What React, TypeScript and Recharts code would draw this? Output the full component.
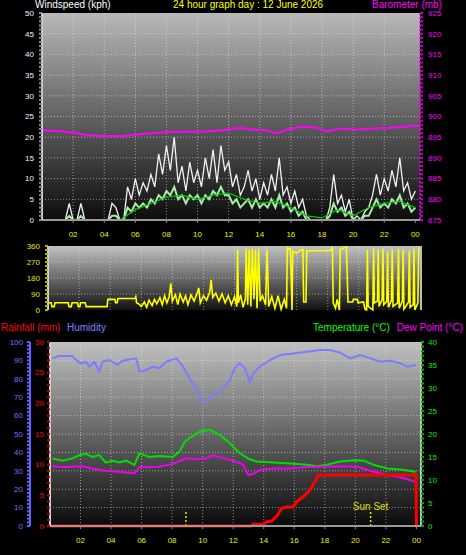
import { LineChart, Line, XAxis, YAxis, CartesianGrid, ReferenceLine } from "recharts";

const FONT = '"Liberation Sans", Arial, sans-serif';

// hours of the day (x axis)
const HOUR_TICKS = [2, 4, 6, 8, 10, 12, 14, 16, 18, 20, 22, 24];
const GRID_HOURS = [2, 4, 6, 8, 10, 12, 14, 16, 18, 20, 22];

// wind, kph, one reading every 15 minutes from 00:00
const GUST = [
  0, 0, 0, 0, 0, 0, 0, 4, 0, 0,
  4, 0, 0, 0, 0, 0, 0, 0, 4, 3,
  0, 0, 8, 5, 10, 6, 9, 7, 11, 8,
  16, 11, 18, 12, 20, 9, 13, 7, 14, 9,
  12, 8, 15, 10, 17, 9, 18, 12, 14, 8,
  11, 6, 8, 12, 7, 10, 5, 9, 6, 11,
  7, 15, 6, 8, 4, 7, 3, 5, 1, 0,
  0, 0, 0, 0, 3, 11, 4, 6, 2, 5,
  0, 1, 0, 2, 3, 6, 11, 6, 10, 7,
  12, 8, 15, 7, 9, 5, 7,
];
const WIND_AVG = [
  0, 0, 0, 0, 0, 0, 0, 1, 0, 0,
  1, 0, 0, 0, 0, 0, 0, 0, 1, 1,
  0, 0, 3, 2, 4, 3, 4, 3, 5, 4,
  6, 5, 7, 6, 8, 5, 6, 4, 6, 5,
  6, 4, 6, 5, 7, 6, 8, 6, 6, 4,
  5, 3, 4, 5, 3, 5, 3, 4, 3, 5,
  3, 6, 3, 4, 2, 3, 1, 2, 0, 0,
  0, 0, 0, 0, 1, 4, 2, 3, 1, 2,
  0, 0, 0, 1, 1, 3, 5, 3, 4, 3,
  5, 4, 6, 3, 4, 2, 3,
];
// hourly mean windspeed, 00:00 .. 24:00
const WIND_HOURLY = [0, 0, 0, 0, 0, 0, 2.5, 4, 5.5, 6, 5, 6, 6.5, 5, 4, 4.5, 3, 1, 0.5, 2.5, 1, 3, 4, 4.5, 3];

// barometer, mb  [hour, value]
const BARO: [number, number][] = [
  [0, 896.7], [1, 896.5], [2, 896.1], [3, 895.5], [4, 895.3], [5.2, 895.3], [6.3, 895.7],
  [7.3, 896.0], [8.4, 896.3], [9.5, 896.3], [10.6, 896.4], [11.6, 896.7], [12.7, 897.3],
  [13.2, 897.0], [13.8, 896.8], [14.5, 896.6], [15.1, 895.9], [15.7, 896.8], [16.8, 897.6],
  [17.65, 897.3], [18.3, 896.4], [19.15, 897.1], [20.2, 896.8], [21.3, 897.1], [22.4, 897.3],
  [23.4, 897.5], [23.9, 897.8], [24.3, 897.6],
];

// wind direction, degrees  [hour, value]
const DIRECTION: [number, number][] = [
  [0, 41], [0.2, 41], [0.25, 19], [0.4, 19], [0.45, 41], [1.3, 41], [1.35, 19], [1.5, 19],
  [1.55, 41], [1.9, 41], [1.95, 19], [2.05, 19], [2.1, 41], [2.4, 41], [2.45, 19], [3.8, 19],
  [3.85, 60], [4.3, 60], [4.35, 41], [4.45, 41], [4.5, 65], [5.6, 65], [5.65, 75], [5.7, 41],
  [5.9, 30], [6.0, 20], [6.2, 45], [6.35, 15], [6.5, 55], [6.7, 25], [6.85, 60], [7.0, 35],
  [7.2, 70], [7.35, 30], [7.5, 80], [7.65, 40], [7.8, 75], [7.9, 150], [8.0, 50], [8.2, 85],
  [8.35, 30], [8.5, 90], [8.7, 45], [8.85, 80], [9.0, 30], [9.2, 85], [9.4, 50], [9.6, 95],
  [9.7, 124], [9.8, 40], [10.0, 80], [10.2, 55], [10.4, 100], [10.5, 169], [10.6, 70],
  [10.8, 95], [11.0, 50], [11.2, 90], [11.4, 40], [11.6, 80], [11.8, 30], [12.0, 75],
  [12.15, 20], [12.2, 340], [12.25, 40], [12.4, 85], [12.55, 15], [12.7, 60], [12.75, 345],
  [12.85, 30], [12.95, 340], [13.05, 20], [13.15, 345], [13.25, 60], [13.35, 340], [13.45, 10],
  [13.55, 345], [13.65, 50], [13.8, 80], [14.0, 30], [14.1, 340], [14.2, 20], [14.4, 75],
  [14.6, 10], [14.8, 80], [15.0, 5], [15.2, 60], [15.35, 10], [15.4, 350], [15.5, 340],
  [15.6, 345], [15.7, 0], [15.75, 330], [16.0, 320], [16.2, 335], [16.4, 340], [16.45, 45],
  [16.6, 45], [16.65, 333], [18.2, 335], [18.3, 355], [18.35, 41], [18.5, 10], [18.6, 60],
  [18.75, 0], [18.8, 340], [19.2, 355], [19.3, 45], [19.6, 45], [19.65, 60], [19.9, 60],
  [19.95, 40], [20.3, 45], [20.4, 5], [20.5, 0], [20.55, 340], [20.6, 20], [20.9, 0],
  [20.95, 345], [21.0, 40], [21.2, 50], [21.25, 340], [21.3, 20], [21.5, 60], [21.55, 345],
  [21.6, 30], [21.8, 50], [21.85, 330], [21.9, 15], [22.1, 55], [22.15, 340], [22.2, 20],
  [22.5, 40], [22.55, 345], [22.6, 10], [22.8, 50], [22.85, 340], [22.9, 5], [23.2, 45],
  [23.25, 335], [23.3, 15], [23.5, 30], [23.55, 345], [23.6, 0], [23.8, 40], [23.85, 340],
  [23.95, 350], [24, 345],
];

// humidity, %  [hour, value]
const HUMIDITY: [number, number][] = [
  [0.15, 91.1], [0.6, 92.4], [1.47, 92.4], [1.7, 90.2], [2.0, 88.4], [2.35, 89.3], [2.57, 86.6],
  [2.9, 89.3], [3.22, 83.9], [3.44, 89.3], [3.88, 90.2], [4.43, 87.5], [4.65, 89.3], [4.98, 90.2],
  [5.64, 91.1], [5.86, 83.9], [6.3, 84.8], [6.73, 86.6], [7.17, 85.8], [7.61, 89.3], [8.27, 91.1],
  [8.71, 86.6], [9.14, 80.3], [9.58, 74.8], [9.91, 68.5], [10.24, 67.6], [10.46, 69.4],
  [10.68, 71.2], [11.12, 73.0], [11.45, 75.7], [11.78, 79.3], [12.1, 85.8], [12.43, 88.4],
  [12.76, 85.8], [13.09, 78.4], [13.31, 82.9], [13.75, 86.6], [14.41, 90.2], [15.07, 92.9],
  [15.94, 93.8], [16.82, 94.7], [17.7, 95.6], [18.35, 95.6], [19.0, 94.2], [19.67, 91.1],
  [20.33, 92.9], [20.99, 91.1], [21.64, 89.3], [22.3, 89.8], [22.96, 88.4], [23.4, 86.6],
  [23.95, 87.5],
];

// temperature, °C  [hour, value]
const TEMPERATURE: [number, number][] = [
  [0.15, 14.7], [0.81, 14.2], [1.47, 14.7], [1.91, 15.4], [2.35, 15.7], [2.78, 15.0], [3.22, 15.4],
  [3.66, 13.8], [4.1, 14.2], [4.54, 13.8], [4.98, 14.2], [5.53, 13.3], [5.86, 15.8], [6.5, 15.0],
  [7.17, 15.2], [8.05, 15.0], [8.49, 16.2], [8.82, 18.3], [9.14, 19.1], [9.8, 20.5], [10.46, 20.9],
  [11.12, 19.8], [11.78, 18.0], [12.43, 15.8], [13.09, 14.5], [13.53, 14.0], [14.63, 13.8],
  [15.72, 13.6], [16.82, 13.3], [17.48, 13.0], [18.14, 13.3], [19.0, 14.0], [19.89, 14.3],
  [20.55, 14.2], [21.2, 13.3], [22.08, 12.5], [22.96, 12.3], [23.95, 11.8],
];

// dew point, °C  [hour, value]
const DEW_POINT: [number, number][] = [
  [0.15, 13.0], [0.81, 12.8], [1.47, 12.9], [2.13, 13.0], [2.78, 12.5], [3.66, 12.0], [4.54, 11.8],
  [5.53, 11.4], [5.86, 12.8], [7.17, 12.9], [8.05, 13.5], [8.92, 14.7], [9.58, 14.5], [10.24, 14.7],
  [10.68, 15.4], [11.34, 14.7], [12.0, 14.2], [12.65, 13.3], [12.98, 11.1], [13.31, 11.3],
  [13.75, 12.2], [14.63, 12.5], [15.72, 12.5], [16.82, 12.8], [17.92, 12.9], [19.0, 13.0],
  [20.1, 12.9], [21.2, 11.8], [22.08, 11.1], [22.96, 10.6], [23.95, 9.6],
];

// rainfall, mm (day total)  [hour, value]
const RAIN: [number, number][] = [
  [0, 0], [13.2, 0], [13.31, 0.3], [13.97, 0.3], [14.19, 0.7], [14.52, 0.8], [14.85, 1.6],
  [15.18, 2.9], [15.5, 3.1], [15.94, 3.1], [16.16, 4.0], [16.6, 4.8], [17.04, 5.9], [17.59, 8.3],
  [23.97, 8.3], [24, 0],
];

const SUN_RISE = 8.9;
const SUN_SET = 21.0;

const WS_GRID = [5, 10, 15, 20, 25, 30, 35, 40, 45];
const DIR_TICKS = [0, 90, 180, 270, 360];
const COMPASS = ["N", "E", "S", "W", "N"];
const HUM_GRID = [10, 20, 30, 40, 50, 60, 70, 80, 90];

const steps = (from: number, to: number, step: number) => {
  const out: number[] = [];
  for (let v = from; v <= to + 1e-9; v += step) out.push(Math.round(v * 100) / 100);
  return out;
};
const pairs = (a: [number, number][]) => a.map(([h, v]) => ({ h, v }));
const hourLabel = (h: number) => String(h % 24).padStart(2, "0");

type TickStyle = {
  side: "left" | "right" | "bottom";
  every: number;
  color: string;
  mark: string;
  len?: number;
  gap?: number;
  size?: number;
  anchor?: "start" | "middle" | "end";
  format?: (v: number) => string;
};

function tickRenderer(s: TickStyle) {
  const len = s.len ?? 3;
  const gap = s.gap ?? 3;
  const size = s.size ?? 8;
  return (p: any) => {
    const v = Number(p.payload.value);
    const q = v / s.every;
    const major = Math.abs(q - Math.round(q)) < 1e-6;
    const text = major ? (s.format ? s.format(v) : String(v)) : "";
    const x = Number(p.x);
    const y = Number(p.y);
    if (s.side === "bottom") {
      return (
        <g>
          <line x1={x} x2={x} y1={y} y2={y + len} stroke={s.mark} strokeWidth={1} />
          {text && (
            <text x={x} y={y + 14} dy="0.35em" textAnchor="middle" fill={s.color} fontSize={size} fontFamily={FONT}>
              {text}
            </text>
          )}
        </g>
      );
    }
    const dir = s.side === "left" ? -1 : 1;
    return (
      <g>
        {len > 0 && <line x1={x} x2={x + dir * len} y1={y} y2={y} stroke={s.mark} strokeWidth={2} />}
        {text && (
          <text
            x={x + dir * (len + gap)}
            y={y}
            dy="0.35em"
            textAnchor={s.anchor ?? (dir < 0 ? "end" : "start")}
            fill={s.color}
            fontSize={size}
            fontFamily={FONT}
          >
            {text}
          </text>
        )}
      </g>
    );
  };
}

const windRows = GUST.map((g, i) => ({ h: i / 4, gust: g, avg: WIND_AVG[i] }));
const hourlyRows = WIND_HOURLY.map((v, i) => ({ h: i, v }));

const gridStroke = "rgba(235,235,235,0.55)";

function Caption({ x, y, right, color, children }: { x?: number; y: number; right?: number; color: string; children: string }) {
  return (
    <div
      style={{
        position: "absolute",
        left: x,
        right,
        top: y,
        color,
        fontSize: 10,
        lineHeight: "10px",
        whiteSpace: "nowrap",
      }}
    >
      {children}
    </div>
  );
}

export default function App() {
  return (
    <div
      style={{
        position: "fixed",
        left: 0,
        top: 0,
        width: 466,
        height: 555,
        background: "#000",
        overflow: "hidden",
        fontFamily: FONT,
      }}
    >
      {/* windspeed + barometer */}
      <div style={{ position: "absolute", left: 0, top: 0 }}>
        <LineChart width={466} height={245} data={windRows} margin={{ top: 13, right: 0, bottom: 0, left: 0 }}>
          <defs>
            <linearGradient id="bgTop" x1="0" y1="0" x2="0" y2="1">
              <stop offset="0%" stopColor="#b8b8b8" />
              <stop offset="100%" stopColor="#0c0c0c" />
            </linearGradient>
          </defs>
          <CartesianGrid
            yAxisId="ws"
            fill="url(#bgTop)"
            stroke={gridStroke}
            strokeDasharray="1 2"
            horizontalValues={WS_GRID}
            verticalValues={GRID_HOURS}
          />
          <XAxis
            type="number"
            dataKey="h"
            domain={[0, 24.3]}
            allowDataOverflow
            ticks={HOUR_TICKS}
            interval={0}
            height={25}
            tickSize={0}
            tickMargin={0}
            tickLine={false}
            axisLine={{ stroke: "#9a9a9a", strokeWidth: 2 }}
            tick={tickRenderer({ side: "bottom", every: 2, color: "#eeee00", mark: "#8a8a8a", format: hourLabel })}
          />
          <YAxis
            yAxisId="ws"
            orientation="left"
            width={42}
            domain={[0, 50]}
            ticks={steps(0, 50, 1)}
            interval={0}
            tickSize={0}
            tickMargin={0}
            tickLine={false}
            axisLine={{ stroke: "#cfcfcf", strokeWidth: 2 }}
            tick={tickRenderer({ side: "left", every: 5, color: "#f4f4ff", mark: "#8c8c8c", gap: 5 })}
          />
          <YAxis
            yAxisId="baro"
            orientation="right"
            width={46}
            domain={[875, 925]}
            ticks={steps(875, 925, 1)}
            interval={0}
            tickSize={0}
            tickMargin={0}
            tickLine={false}
            axisLine={{ stroke: "#ff00ff", strokeWidth: 1.5, strokeDasharray: "2 2" }}
            tick={tickRenderer({ side: "right", every: 5, color: "#ff00ff", mark: "#c000c0", gap: 5 })}
          />
          <Line yAxisId="ws" type="linear" dataKey="gust" stroke="#f2f2f2" strokeWidth={1.3} dot={false} isAnimationActive={false} />
          <Line yAxisId="ws" type="linear" dataKey="avg" stroke="#a8eca8" strokeWidth={2} dot={false} isAnimationActive={false} />
          <Line yAxisId="ws" type="linear" data={hourlyRows} dataKey="v" stroke="#00cc00" strokeWidth={1.2} dot={false} isAnimationActive={false} />
          <Line yAxisId="baro" type="linear" data={pairs(BARO)} dataKey="v" stroke="#ff00ff" strokeWidth={2} dot={false} isAnimationActive={false} />
        </LineChart>
      </div>

      {/* wind direction */}
      <div style={{ position: "absolute", left: 0, top: 236 }}>
        <LineChart width={466} height={80} margin={{ top: 10, right: 0, bottom: 6, left: 0 }}>
          <defs>
            <linearGradient id="bgMid" x1="0" y1="0" x2="0" y2="1">
              <stop offset="0%" stopColor="#c2c2c2" />
              <stop offset="100%" stopColor="#121212" />
            </linearGradient>
          </defs>
          <CartesianGrid
            yAxisId="dir"
            fill="url(#bgMid)"
            stroke={gridStroke}
            strokeDasharray="1 2"
            horizontalValues={[90, 180, 270]}
            verticalValues={GRID_HOURS}
          />
          <XAxis type="number" dataKey="h" domain={[0, 24]} allowDataOverflow hide />
          <YAxis
            yAxisId="dir"
            orientation="left"
            width={48}
            domain={[0, 360]}
            ticks={steps(0, 360, 22.5)}
            interval={0}
            tickSize={0}
            tickMargin={0}
            tickLine={false}
            axisLine={{ stroke: "#d0d0d0", strokeWidth: 2 }}
            tick={tickRenderer({ side: "left", every: 90, color: "#e4e400", mark: "#b4b400", gap: 5 })}
          />
          <YAxis
            yAxisId="compass"
            orientation="right"
            width={45}
            domain={[0, 360]}
            ticks={DIR_TICKS}
            interval={0}
            tickSize={0}
            tickMargin={0}
            tickLine={false}
            axisLine={{ stroke: "#bdbdbd", strokeWidth: 2 }}
            tick={tickRenderer({
              side: "right",
              every: 90,
              color: "#ffff00",
              mark: "none",
              len: 0,
              gap: 19,
              size: 12,
              anchor: "middle",
              format: (v) => COMPASS[DIR_TICKS.indexOf(v)],
            })}
          />
          <Line yAxisId="dir" type="linear" data={pairs(DIRECTION)} dataKey="v" stroke="#ffff00" strokeWidth={1.6} dot={false} isAnimationActive={false} />
        </LineChart>
      </div>

      {/* rain, humidity, temperature, dew point */}
      <div style={{ position: "absolute", left: 0, top: 330 }}>
        <LineChart width={466} height={221} margin={{ top: 12, right: 0, bottom: 0, left: 0 }}>
          <defs>
            <linearGradient id="bgLow" x1="0" y1="0" x2="0" y2="1">
              <stop offset="0%" stopColor="#c0c0c0" />
              <stop offset="100%" stopColor="#0a0a0a" />
            </linearGradient>
          </defs>
          <CartesianGrid
            yAxisId="b_hum"
            fill="url(#bgLow)"
            stroke={gridStroke}
            strokeDasharray="1 2"
            horizontalValues={HUM_GRID}
            verticalValues={GRID_HOURS}
          />
          <XAxis
            type="number"
            dataKey="h"
            domain={[0, 24.3]}
            allowDataOverflow
            ticks={HOUR_TICKS}
            interval={0}
            height={25}
            tickSize={0}
            tickMargin={0}
            tickLine={false}
            axisLine={{ stroke: "#9a9a9a", strokeWidth: 2 }}
            tick={tickRenderer({ side: "bottom", every: 2, color: "#eeee00", mark: "#8a8a8a", format: hourLabel })}
          />
          <YAxis
            yAxisId="a_rain"
            orientation="left"
            width={20}
            domain={[0, 30]}
            ticks={steps(0, 30, 1)}
            interval={0}
            tickSize={0}
            tickMargin={0}
            tickLine={false}
            axisLine={{ stroke: "#d0d0d0", strokeWidth: 2 }}
            tick={tickRenderer({ side: "left", every: 5, color: "#ff0000", mark: "#b00000", gap: 3 })}
          />
          <YAxis
            yAxisId="b_hum"
            orientation="left"
            width={30}
            domain={[0, 100]}
            ticks={steps(0, 100, 2)}
            interval={0}
            tickSize={0}
            tickMargin={0}
            tickLine={false}
            axisLine={{ stroke: "#6464ff", strokeWidth: 2 }}
            tick={tickRenderer({ side: "left", every: 10, color: "#7070ff", mark: "#6060ff", gap: 4 })}
          />
          <YAxis
            yAxisId="c_temp"
            orientation="right"
            width={45}
            domain={[0, 40]}
            ticks={steps(0, 40, 1)}
            interval={0}
            tickSize={0}
            tickMargin={0}
            tickLine={false}
            axisLine={{ stroke: "#c0c0c0", strokeWidth: 2 }}
            tick={tickRenderer({ side: "right", every: 5, color: "#00ee00", mark: "#00b000", gap: 4 })}
          />
          <ReferenceLine
            yAxisId="a_rain"
            segment={[{ x: SUN_RISE, y: 0 }, { x: SUN_RISE, y: 2.6 }]}
            stroke="#e8e800"
            strokeWidth={1.5}
            strokeDasharray="2 2"
          />
          <ReferenceLine
            yAxisId="a_rain"
            segment={[{ x: SUN_SET, y: 0 }, { x: SUN_SET, y: 2.3 }]}
            stroke="#e8e800"
            strokeWidth={1.5}
            strokeDasharray="2 2"
            label={{ value: "Sun Set", position: "top", fill: "#dede00", fontSize: 10, offset: 2 }}
          />
          <Line yAxisId="b_hum" type="linear" data={pairs(HUMIDITY)} dataKey="v" stroke="#7c7cff" strokeWidth={2} dot={false} isAnimationActive={false} />
          <Line yAxisId="c_temp" type="linear" data={pairs(TEMPERATURE)} dataKey="v" stroke="#00e000" strokeWidth={2} dot={false} isAnimationActive={false} />
          <Line yAxisId="c_temp" type="linear" data={pairs(DEW_POINT)} dataKey="v" stroke="#ee00ee" strokeWidth={2} dot={false} isAnimationActive={false} />
          <Line yAxisId="a_rain" type="linear" data={pairs(RAIN)} dataKey="v" stroke="#ff0000" strokeWidth={3} dot={false} isAnimationActive={false} />
        </LineChart>
      </div>

      <Caption x={35} y={0} color="#ffffff">Windspeed (kph)</Caption>
      <Caption x={173} y={0} color="#ffff00">24 hour graph day : 12 June 2026</Caption>
      <Caption right={24} y={0} color="#ff00ff">Barometer (mb)</Caption>

      <Caption x={1} y={323} color="#ff0000">Rainfall (mm)</Caption>
      <Caption x={67} y={323} color="#8080ff">Humidity</Caption>
      <Caption x={313} y={323} color="#00ff00">Temperature (°C)</Caption>
      <Caption right={3} y={323} color="#ff00ff">Dew Point (°C)</Caption>
    </div>
  );
}
